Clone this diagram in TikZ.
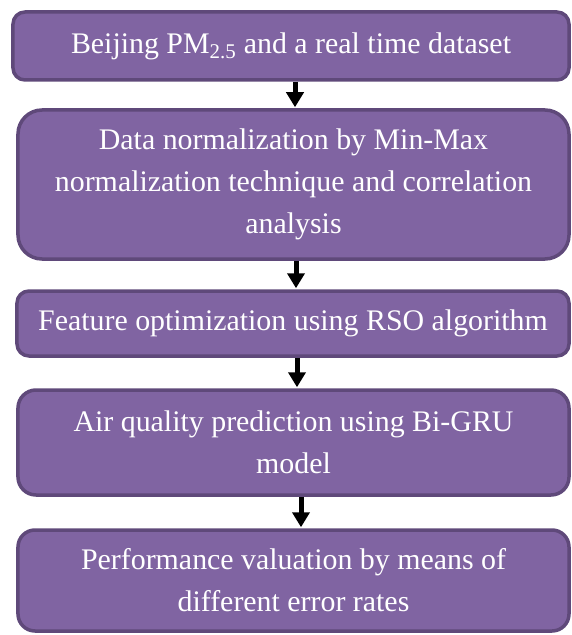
\documentclass[tikz,border=0pt]{standalone}
\usepackage{fontspec}
\setmainfont{Liberation Serif}
\newfontfamily\tnrfont{Liberation Serif}
\usetikzlibrary{arrows.meta}
\definecolor{boxfill}{HTML}{8064A2}
\definecolor{boxline}{HTML}{5F497A}
\tikzset{
  stepbox/.style={draw=boxline, fill=boxfill, line width=3.5bp, text=white,
    align=center, inner sep=0pt, font=\tnrfont\fontsize{30}{42}\selectfont},
  arr/.style={draw=black, line width=5bp,
    -{Triangle[width=17bp,length=15bp]}, shorten >=1bp}
}
\begin{document}
\begin{tikzpicture}[x=1bp,y=-1bp]
\useasboundingbox (0,0) rectangle (572,635);
\node[stepbox, minimum width=556bp, minimum height=68bp, rounded corners=12bp] (b1) at (291,46)
  {Beijing PM\textsubscript{2.5} and a real time dataset};
\node[stepbox, minimum width=551bp, minimum height=149bp, rounded corners=24bp] (b2) at (293.5,184.5)
  {Data normalization by Min-Max\\normalization technique and correlation\\analysis};
\node[stepbox, minimum width=552bp, minimum height=65bp, rounded corners=12bp] (b3) at (293,323.5)
  {Feature optimization using RSO algorithm};
\node[stepbox, minimum width=551bp, minimum height=105bp, rounded corners=18bp] (b4) at (293.5,442.5)
  {Air quality prediction using Bi-GRU\\model};
\node[stepbox, minimum width=551bp, minimum height=101bp, rounded corners=17bp] (b5) at (293.5,580.5)
  {Performance valuation by means of\\different error rates};
\draw[arr] ([xshift=4bp]b1.south) -- ([xshift=4bp]b1.south |- b2.north);
\draw[arr] ([xshift=2.5bp]b2.south) -- ([xshift=2.5bp]b2.south |- b3.north);
\draw[arr] ([xshift=4bp]b3.south) -- ([xshift=4bp]b3.south |- b4.north);
\draw[arr] ([xshift=7.5bp]b4.south) -- ([xshift=7.5bp]b4.south |- b5.north);
\end{tikzpicture}
\end{document}
